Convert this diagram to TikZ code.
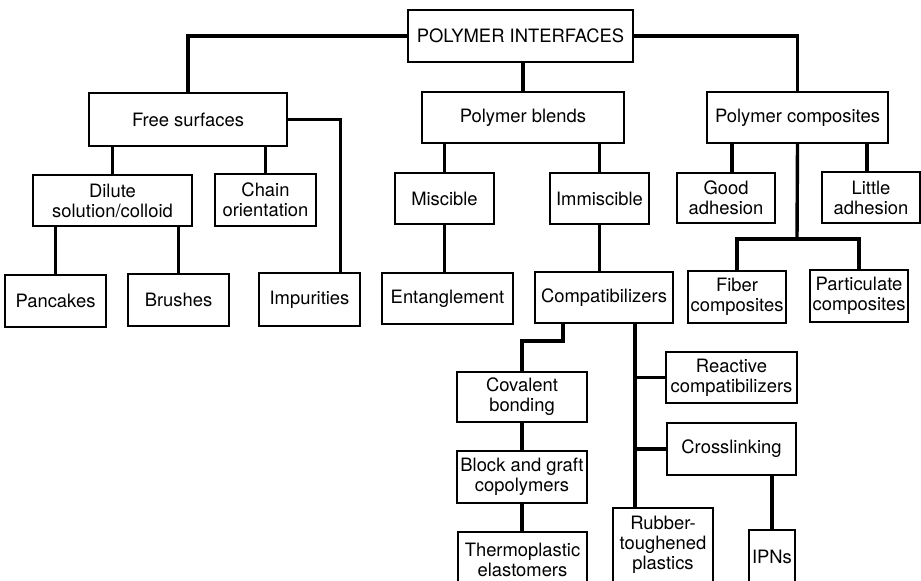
\documentclass[tikz,border=0pt]{standalone}
\usepackage{fontspec}
\setmainfont{TeX Gyre Heros}
\begin{document}
\begin{tikzpicture}[x=0.5pt,y=-0.5pt,
  bx/.style={draw=black,line width=1.2pt,fill=white,inner sep=0pt,align=center,
    font=\fontsize{9.2pt}{10pt}\selectfont},
  cn/.style={draw=black,line width=1.7pt}]
\useasboundingbox (0,0) rectangle (921,580);
\clip (0,0) rectangle (921,580);
\newcommand\mybox[6]{\node[bx,minimum width={(#4-#2)*0.5pt},minimum height={(#5-#3)*0.5pt}] (#1) at ({(#2+#4)/2},{(#3+#5)/2}) {#6};}
\coordinate (cbus) at (797,239);
\coordinate (cstep) at (563,341);
\coordinate (ctrunk) at (635,330);
% boxes
\mybox{pi}{408}{10}{633}{62}{POLYMER INTERFACES}
\mybox{fs}{89}{93}{287}{146}{Free surfaces}
\mybox{pb}{422}{92}{624}{143}{Polymer blends}
\mybox{pc}{707}{92}{888}{143}{Polymer composites}
\mybox{dil}{33}{175}{192}{226}{Dilute\\solution/colloid}
\mybox{ch}{215}{174}{316}{226}{Chain\\orientation}
\mybox{mis}{395}{173}{494}{224}{Miscible}
\mybox{imm}{550}{173}{649}{224}{Immiscible}
\mybox{good}{677}{173}{775}{223}{Good\\adhesion}
\mybox{lit}{822}{172}{920}{223}{Little\\adhesion}
\mybox{pan}{5}{275}{106}{327}{Pancakes}
\mybox{br}{128}{274}{229}{326}{Brushes}
\mybox{imp}{259}{273}{360}{326}{Impurities}
\mybox{ent}{382}{273}{513}{324}{Entanglement}
\mybox{comp}{535}{272}{673}{323}{Compatibilizers}
\mybox{fib}{688}{271}{786}{323}{Fiber\\composites}
\mybox{part}{810}{270}{908}{322}{Particulate\\composites}
\mybox{rea}{666}{352}{797}{403}{Reactive\\compatibilizers}
\mybox{cov}{457}{372}{587}{422}{Covalent\\bonding}
\mybox{cross}{667}{423}{796}{475}{Crosslinking}
\mybox{blk}{457}{451}{587}{503}{Block and graft\\copolymers}
\mybox{rub}{613}{508}{713}{582}{Rubber-\\toughened\\plastics}
\mybox{thp}{458}{532}{587}{588}{Thermoplastic\\elastomers}
\mybox{ipn}{749}{530}{795}{584}{IPNs}
% connectors
\draw[cn] (pi.west) -| (fs.north);
\draw[cn] (pi.east) -| (pc.north);
\draw[cn] (pi.south -| pb.north) -- (pb.north);
\draw[cn] (fs.east) -| ([xshift=-10.5pt]imp.north east);
\draw[cn] (fs.south -| dil.north) -- (dil.north);
\draw[cn] (fs.south -| ch.north) -- (ch.north);
\draw[cn] (dil.south -| pan.north) -- (pan.north);
\draw[cn] (dil.south -| br.north) -- (br.north);
\draw[cn] (pb.south -| mis.north) -- (mis.north);
\draw[cn] (pb.south -| imm.north) -- (imm.north);
\draw[cn] (mis.south) -- (mis.south |- ent.north);
\draw[cn] (imm.south) -- (imm.south |- comp.north);
\draw[cn] ([xshift=3pt]good.north) -- ([xshift=3pt]good.north |- pc.south);
\draw[cn] ([xshift=-2pt]lit.north) -- ([xshift=-2pt]lit.north |- pc.south);
\draw[cn] (pc.south) -- (cbus);
\draw[cn] (fib.north) |- (cbus) -| (part.north);
\draw[cn] (cstep |- comp.south) -- (cstep) -| (cov.north);
\draw[cn] (ctrunk |- comp.south) -- (ctrunk |- rub.north);
\draw[cn] (ctrunk |- rea.west) -- (rea.west);
\draw[cn] (ctrunk |- cross.west) -- (cross.west);
\draw[cn] (cross.south -| ipn.north) -- (ipn.north);
\draw[cn] (cov.south) -- (cov.south |- blk.north);
\draw[cn] (blk.south) -- (blk.south |- thp.north);
\end{tikzpicture}
\end{document}
